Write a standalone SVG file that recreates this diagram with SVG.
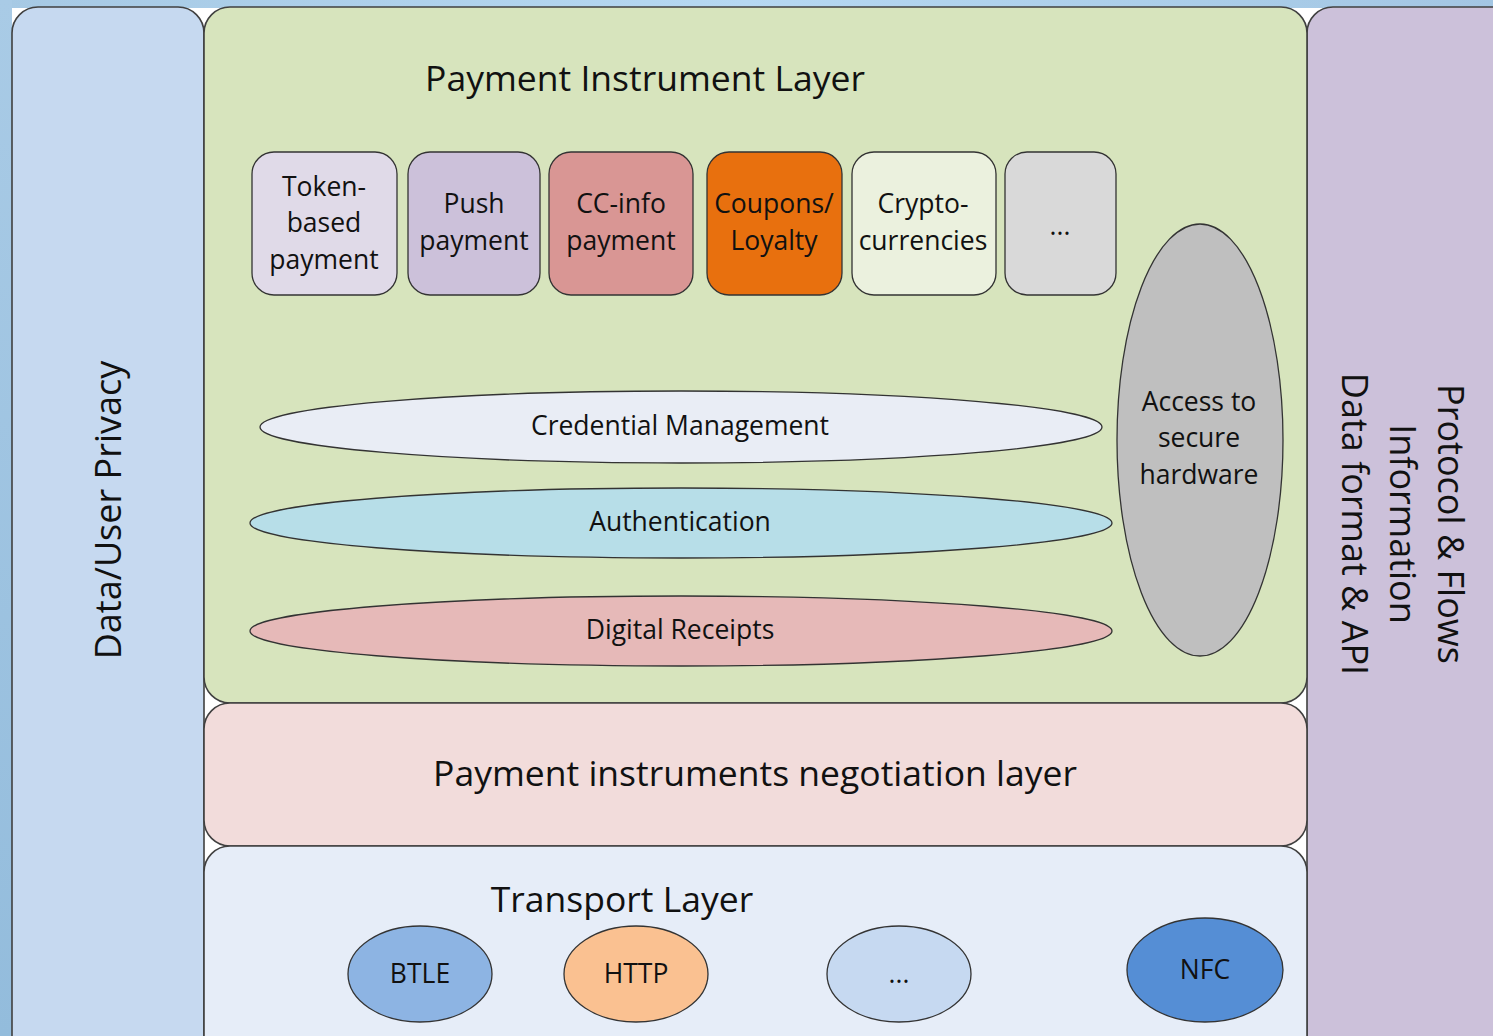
<svg xmlns="http://www.w3.org/2000/svg" width="1493" height="1036" viewBox="0 0 1493 1036">
  <defs>
    <linearGradient id="bgTop" x1="0" y1="0" x2="1" y2="0">
      <stop offset="0" stop-color="#a6c9e4"/>
      <stop offset="0.5" stop-color="#b6d8f2"/>
      <stop offset="1" stop-color="#a3c6e3"/>
    </linearGradient>
    <linearGradient id="bgLeft" x1="0" y1="0" x2="0" y2="1">
      <stop offset="0" stop-color="#a9cbe6"/>
      <stop offset="1" stop-color="#93bcdc"/>
    </linearGradient>
  </defs>
  <style>
    .panel { stroke: #404040; stroke-width: 1.6; }
    .box { stroke: #333333; stroke-width: 1.3; }
    .shape { stroke: #333333; stroke-width: 1.3; }
    text { font-family: "Open Sans", "Noto Sans", "DejaVu Sans", sans-serif; fill: #111; text-anchor: middle; }
    .title { font-size: 35.5px; }
    .lbl { font-size: 26.5px; }
    .ell { font-size: 26.5px; }
    .side { font-size: 36px; }
  </style>

  <!-- background -->
  <rect x="0" y="0" width="1493" height="1036" fill="#ffffff"/>
  <rect x="0" y="0" width="1493" height="8" fill="url(#bgTop)"/>
  <rect x="0" y="0" width="12" height="1036" fill="url(#bgLeft)"/>

  <!-- side panels -->
  <g id="privacy-panel">
    <rect class="panel" x="12" y="7" width="192" height="1060" rx="26" fill="#c6d9f0"/>
    <text class="side" transform="translate(121,510) rotate(-90)">Data/User Privacy</text>
  </g>
  <g id="protocol-panel">
    <rect class="panel" x="1307" y="7" width="240" height="1060" rx="26" fill="#ccc1da"/>
    <text class="side" transform="translate(1438,524) rotate(90)">Protocol &amp; Flows</text>
    <text class="side" transform="translate(1390,524) rotate(90)">Information</text>
    <text class="side" transform="translate(1342,524) rotate(90)">Data format &amp; API</text>
  </g>

  <!-- layers -->
  <g id="instrument-layer">
    <rect class="panel" x="204" y="7" width="1103" height="696" rx="26" fill="#d7e4bd"/>
    <text class="title" x="645" y="91">Payment Instrument Layer</text>
  </g>
  <g id="negotiation-layer">
    <rect class="panel" x="204" y="703" width="1103" height="143" rx="26" fill="#f2dcdb"/>
    <text class="title" x="755" y="786">Payment instruments negotiation layer</text>
  </g>
  <g id="transport-layer">
    <rect class="panel" x="204" y="846" width="1103" height="220" rx="26" fill="#e6edf8"/>
    <text class="title" x="622" y="912">Transport Layer</text>
  </g>

  <!-- payment instruments -->
  <g id="token-based">
    <rect class="box" x="252" y="152" width="145" height="143" rx="22" fill="#e0dae8"/>
    <text class="lbl" x="324" y="196">Token-</text>
    <text class="lbl" x="324" y="232">based</text>
    <text class="lbl" x="324" y="269">payment</text>
  </g>
  <g id="push-payment">
    <rect class="box" x="408" y="152" width="132" height="143" rx="22" fill="#ccc1da"/>
    <text class="lbl" x="474" y="213">Push</text>
    <text class="lbl" x="474" y="250">payment</text>
  </g>
  <g id="cc-info">
    <rect class="box" x="549" y="152" width="144" height="143" rx="22" fill="#d99694"/>
    <text class="lbl" x="621" y="213">CC-info</text>
    <text class="lbl" x="621" y="250">payment</text>
  </g>
  <g id="coupons">
    <rect class="box" x="707" y="152" width="135" height="143" rx="22" fill="#e8700e"/>
    <text class="lbl" x="774" y="213">Coupons/</text>
    <text class="lbl" x="774" y="250">Loyalty</text>
  </g>
  <g id="crypto">
    <rect class="box" x="852" y="152" width="144" height="143" rx="22" fill="#ebf1de"/>
    <text class="lbl" x="923" y="213">Crypto-</text>
    <text class="lbl" x="923" y="250">currencies</text>
  </g>
  <g id="more-instruments">
    <rect class="box" x="1005" y="152" width="111" height="143" rx="22" fill="#d9d9d9"/>
    <text class="lbl" x="1060" y="235">...</text>
  </g>

  <!-- cross-cutting services -->
  <g id="credential-management">
    <ellipse class="shape" cx="681" cy="427" rx="421" ry="36" fill="#e9edf5"/>
    <text class="ell" x="680" y="435">Credential Management</text>
  </g>
  <g id="authentication">
    <ellipse class="shape" cx="681" cy="523" rx="431" ry="35" fill="#b7dee8"/>
    <text class="ell" x="680" y="531">Authentication</text>
  </g>
  <g id="digital-receipts">
    <ellipse class="shape" cx="681" cy="631" rx="431" ry="35" fill="#e6b9b8"/>
    <text class="ell" x="680" y="639">Digital Receipts</text>
  </g>
  <g id="secure-hardware">
    <ellipse class="shape" cx="1200" cy="440" rx="83" ry="216" fill="#bfbfbf"/>
    <text class="lbl" x="1199" y="411">Access to</text>
    <text class="lbl" x="1199" y="447">secure</text>
    <text class="lbl" x="1199" y="484">hardware</text>
  </g>

  <!-- transports -->
  <g id="btle">
    <ellipse class="shape" cx="420" cy="974" rx="72" ry="48" fill="#8db4e3"/>
    <text class="lbl" x="420" y="983">BTLE</text>
  </g>
  <g id="http">
    <ellipse class="shape" cx="636" cy="974" rx="72" ry="48" fill="#fac191"/>
    <text class="lbl" x="636" y="983">HTTP</text>
  </g>
  <g id="more-transports">
    <ellipse class="shape" cx="899" cy="974" rx="72" ry="48" fill="#c6d9f1"/>
    <text class="lbl" x="899" y="983">...</text>
  </g>
  <g id="nfc">
    <ellipse class="shape" cx="1205" cy="970" rx="78" ry="52" fill="#558ed5"/>
    <text class="lbl" x="1205" y="979">NFC</text>
  </g>

  <g id="connectors"/>
</svg>
